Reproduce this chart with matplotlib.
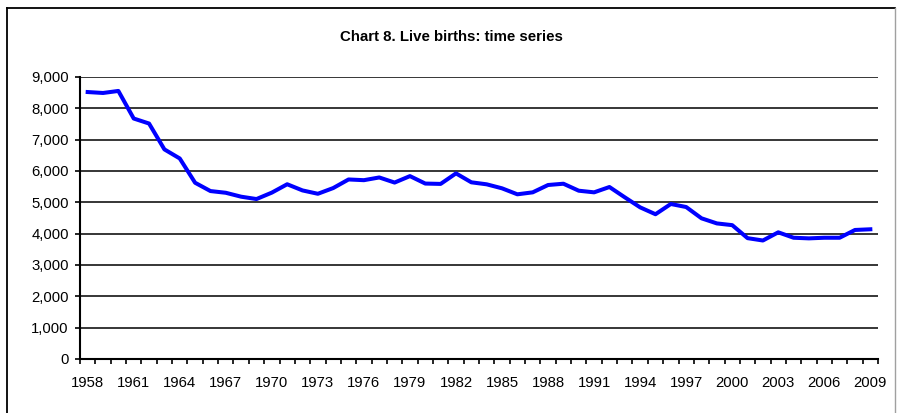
import matplotlib
matplotlib.use('Agg')
import matplotlib.pyplot as plt
from matplotlib.lines import Line2D

years = list(range(1958, 2010))
births = [8520, 8490, 8555, 7675, 7515, 6690, 6400, 5625, 5360, 5305,
          5180, 5105, 5310, 5577, 5380, 5273, 5456, 5730, 5707, 5794,
          5631, 5837, 5599, 5588, 5924, 5639, 5575, 5447, 5256, 5319,
          5553, 5594, 5371, 5319, 5489, 5160, 4840, 4620, 4947, 4850,
          4490, 4327, 4272, 3857, 3782, 4043, 3870, 3850, 3870, 3870,
          4118, 4140]
title = 'Chart 8. Live births: time series'


def plot_births():
    plt.rcParams['font.family'] = ['Liberation Sans', 'DejaVu Sans']
    fig = plt.figure(figsize=(8.98, 4.13), dpi=100)
    W, H = 898.0, 413.0
    ax = fig.add_axes([80 / W, 1 - 359 / H, 798 / W, 282 / H])

    idx = list(range(len(years)))
    ax.plot(idx, births, color='#0000ff', linewidth=2.9, solid_joinstyle='round', zorder=3)

    ax.set_xlim(-0.5, len(years) - 0.5)
    ax.set_ylim(0, 9000)

    # y axis
    yt = list(range(0, 9001, 1000))
    ax.set_yticks(yt)
    ax.set_yticklabels(['{:,}'.format(v) for v in yt], fontsize=10.7)
    ax.yaxis.grid(True, color='black', linewidth=1.1)
    ax.set_axisbelow(True)
    ax.tick_params(axis='y', direction='out', length=3.6, width=1.2, pad=4.5)

    # x axis: tick marks between categories, labels every 3rd year
    ax.set_xticks([i - 0.5 for i in range(len(years) + 1)])
    ax.set_xticklabels([])
    ax.set_xticks(idx[::3], minor=True)
    ax.set_xticklabels([str(y) for y in years[::3]], minor=True, fontsize=10.7)
    ax.tick_params(axis='x', which='major', direction='out', length=3.6, width=1.2)
    ax.tick_params(axis='x', which='minor', length=0, pad=12)

    for side in ['top', 'right']:
        ax.spines[side].set_visible(False)
    ax.spines['left'].set_linewidth(1.5)
    ax.spines['bottom'].set_linewidth(1.5)

    fig.text(451 / W, 1 - 37 / H, title, ha='center', va='center',
             fontsize=10.8, fontweight='bold')

    # chart area border
    fig.add_artist(Line2D([6.5 / W, 6.5 / W], [0, 1 - 7.5 / H], transform=fig.transFigure,
                          color='black', linewidth=1.3))
    fig.add_artist(Line2D([6.5 / W, 895 / W], [1 - 7.5 / H, 1 - 7.5 / H], transform=fig.transFigure,
                          color='black', linewidth=1.3))
    fig.add_artist(Line2D([895 / W, 895 / W], [0, 1 - 7.5 / H], transform=fig.transFigure,
                          color='#a0a0a0', linewidth=1.0))

    fig.savefig('out.png', dpi=100)
    plt.close(fig)


def main():
    plot_births()


if __name__ == "__main__":
    main()
